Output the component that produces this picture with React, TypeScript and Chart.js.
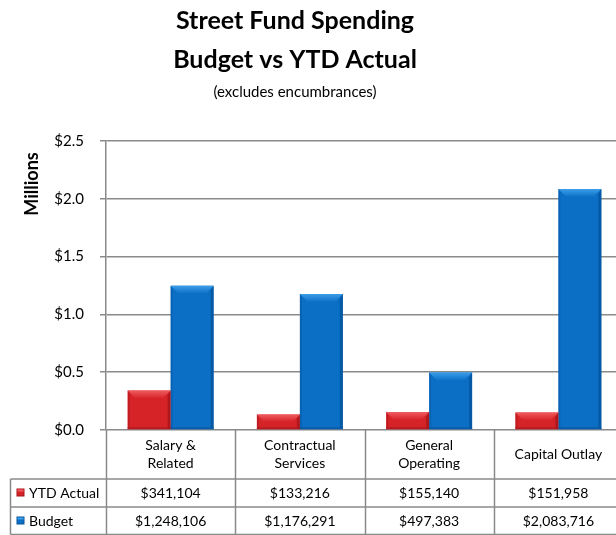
import React, { useEffect, useRef } from "react";
import { Chart, registerables } from "chart.js";

Chart.register(...registerables);

const categories: string[][] = [["Salary &", "Related"], ["Contractual", "Services"], ["General", "Operating"], ["Capital Outlay"]];
const seriesNames = ["YTD Actual", "Budget"];
const ytdActual = [341104, 133216, 155140, 151958];
const budget = [1248106, 1176291, 497383, 2083716];
const yTicks = [0, 0.5, 1.0, 1.5, 2.0, 2.5];
const titleLines = ["Street Fund Spending", "Budget vs YTD Actual"];
const subtitle = "(excludes encumbrances)";
const yAxisTitle = "Millions";

const FONT = "Lato, 'Open Sans', sans-serif";
const PAL = [
  { main: "#d62328", light: "#ef5b5f", dark: "#a3141a" },
  { main: "#0b6fc6", light: "#3c9de8", dark: "#06529a" },
];
const LINE = "#8a8a8a";

const fmt = (v: number) => "$" + v.toLocaleString("en-US");

const decoPlugin = {
  id: "deco",
  afterDatasetsDraw(chart: any) {
    const ctx = chart.ctx;
    chart.data.datasets.forEach((_ds: any, di: number) => {
      const meta = chart.getDatasetMeta(di);
      const pal = PAL[di];
      meta.data.forEach((bar: any) => {
        const { x, y, base, width } = bar.getProps(["x", "y", "base", "width"], true);
        const l = x - width / 2, r = x + width / 2;
        const t = Math.min(y, base), b = Math.max(y, base);
        const h = b - t;
        const bv = Math.min(8, h / 2);
        ctx.save();
        const g = ctx.createLinearGradient(0, t, 0, t + bv);
        g.addColorStop(0, pal.light);
        g.addColorStop(1, pal.main);
        ctx.fillStyle = g;
        ctx.beginPath();
        ctx.moveTo(l, t);
        ctx.lineTo(r, t);
        ctx.lineTo(r - bv, t + bv);
        ctx.lineTo(l + bv, t + bv);
        ctx.closePath();
        ctx.fill();
        ctx.fillStyle = pal.dark;
        ctx.globalAlpha = 0.75;
        ctx.beginPath();
        ctx.moveTo(r, t);
        ctx.lineTo(r, b);
        ctx.lineTo(r - 3, b - 2);
        ctx.lineTo(r - 3, t + bv * 0.6);
        ctx.closePath();
        ctx.fill();
        ctx.globalAlpha = 0.45;
        ctx.beginPath();
        ctx.moveTo(l, t);
        ctx.lineTo(l + 2, t + bv * 0.4);
        ctx.lineTo(l + 2, b - 2);
        ctx.lineTo(l, b);
        ctx.closePath();
        ctx.fill();
        ctx.globalAlpha = 0.6;
        ctx.fillRect(l, b - 2, width, 2);
        ctx.restore();
      });
    });
  },
  afterDraw(chart: any) {
    const ctx = chart.ctx;
    const area = chart.chartArea;
    const xs = chart.scales.x;
    ctx.save();
    ctx.fillStyle = "#000";
    ctx.textAlign = "center";
    ctx.textBaseline = "alphabetic";
    ctx.font = `bold 25px ${FONT}`;
    ctx.fillText(titleLines[0], 295, 29);
    ctx.fillText(titleLines[1], 295, 68);
    ctx.font = `15px ${FONT}`;
    ctx.fillText(subtitle, 295, 97);
    ctx.save();
    ctx.translate(32, 184);
    ctx.rotate(-Math.PI / 2);
    ctx.font = `bold 18px ${FONT}`;
    ctx.textBaseline = "middle";
    ctx.fillText(yAxisTitle, 0, 0);
    ctx.restore();

    const n = categories.length;
    const bounds: number[] = [area.left];
    for (let i = 0; i < n - 1; i++) {
      bounds.push((xs.getPixelForValue(i) + xs.getPixelForValue(i + 1)) / 2);
    }
    bounds.push(area.right);
    const top = area.bottom;
    const row1 = 479, row2 = 507, rowEnd = 534.5;
    const tableLeft = 10.5;
    ctx.strokeStyle = LINE;
    ctx.lineWidth = 1.5;
    ctx.beginPath();
    bounds.forEach((bx) => {
      ctx.moveTo(Math.round(bx) + 0.5, top);
      ctx.lineTo(Math.round(bx) + 0.5, rowEnd);
    });
    ctx.moveTo(tableLeft, row1);
    ctx.lineTo(tableLeft, rowEnd);
    [row1, row2, rowEnd].forEach((ry) => {
      ctx.moveTo(tableLeft, ry);
      ctx.lineTo(area.right, ry);
    });
    ctx.stroke();

    ctx.fillStyle = "#000";
    ctx.font = `14px ${FONT}`;
    ctx.textBaseline = "middle";
    ctx.textAlign = "center";
    categories.forEach((lines, i) => {
      const cx = (bounds[i] + bounds[i + 1]) / 2;
      const mid = (top + row1) / 2;
      const lh = 18;
      lines.forEach((ln, k) => {
        ctx.fillText(ln, cx, mid + (k - (lines.length - 1) / 2) * lh);
      });
      ctx.fillText(fmt(ytdActual[i]), cx, (row1 + row2) / 2 + 0.5);
      ctx.fillText(fmt(budget[i]), cx, (row2 + rowEnd) / 2 + 0.5);
    });
    ctx.textAlign = "left";
    [row1, row2].forEach((ry, si) => {
      const cy = ry + 14;
      const pal = PAL[si];
      ctx.fillStyle = pal.dark;
      ctx.fillRect(16.5, cy - 4.5, 8, 8);
      ctx.fillStyle = pal.main;
      ctx.fillRect(17.5, cy - 3.5, 6, 6);
      ctx.fillStyle = pal.light;
      ctx.fillRect(17.5, cy - 3.5, 6, 2);
      ctx.fillStyle = "#000";
      ctx.fillText(seriesNames[si], 29, cy + 0.5);
    });
    ctx.restore();
  },
};

export default function App() {
  const ref = useRef<HTMLCanvasElement | null>(null);
  useEffect(() => {
    if (!ref.current) return;
    const chart = new Chart(ref.current, {
      type: "bar",
      data: {
        labels: categories.map((c) => c.join(" ")),
        datasets: [
          {
            label: seriesNames[0],
            data: ytdActual.map((v) => v / 1e6),
            backgroundColor: PAL[0].main,
            categoryPercentage: 0.665,
            barPercentage: 1.0,
          },
          {
            label: seriesNames[1],
            data: budget.map((v) => v / 1e6),
            backgroundColor: PAL[1].main,
            categoryPercentage: 0.665,
            barPercentage: 1.0,
          },
        ],
      },
      options: {
        responsive: false,
        animation: false,
        devicePixelRatio: 1,
        layout: { padding: { left: 0, right: 17, top: 141, bottom: 105 } },
        plugins: {
          legend: { display: false },
          title: { display: false },
          tooltip: { enabled: false },
        },
        scales: {
          x: { display: false },
          y: {
            min: 0,
            max: 2.5,
            afterFit: (s: any) => {
              s.width = 106;
            },
            afterBuildTicks: (s: any) => {
              s.ticks = yTicks.map((v) => ({ value: v }));
            },
            ticks: {
              padding: 16,
              color: "#000",
              font: { family: FONT, size: 15 },
              callback: (v: any) => "$" + Number(v).toFixed(1),
            },
            grid: {
              color: LINE,
              lineWidth: 1.5,
              tickLength: 6,
              drawTicks: true,
            },
            border: { display: true, color: LINE, width: 1.5 },
          },
        },
      },
      plugins: [decoPlugin],
    });
    return () => chart.destroy();
  }, []);
  return (
    <div style={{ position: "absolute", left: 0, top: 0, width: 616, height: 535, overflow: "hidden", background: "#fff" }}>
      <canvas ref={ref} width={640} height={535} style={{ width: 640, height: 535, display: "block" }} />
    </div>
  );
}
